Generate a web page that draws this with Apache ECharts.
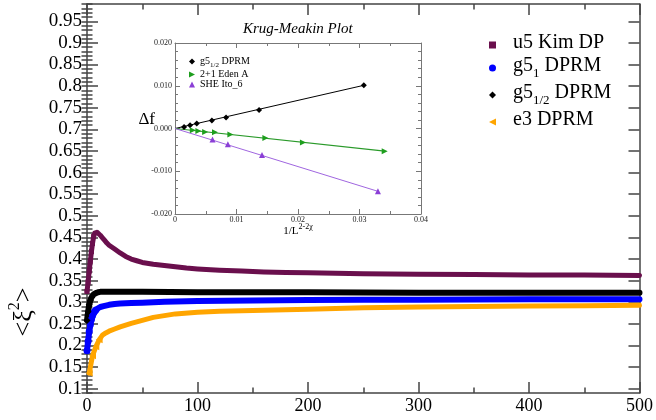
<!DOCTYPE html>
<html><head><meta charset="utf-8">
<script src="https://cdn.jsdelivr.net/npm/echarts@6/dist/echarts.min.js"></script>
<style>html,body{margin:0;padding:0;background:#fff}#c{width:656px;height:420px}</style>
</head><body><div id="c"></div>
<script>
// ---------- main chart data ----------
const u5X = [0,1,2,3,4,5,6,7,8,9,10,12,14,16,18,20,25,30,35,40,45,50,60,70,80,90,100,120,140,160,180,200,250,300,350,400,450,500];
const u5Y = [0.325,0.347,0.372,0.395,0.417,0.436,0.452,0.460,0.463,0.462,0.460,0.455,0.449,0.443,0.437,0.432,0.423,0.414,0.406,0.400,0.396,0.392,0.388,0.385,0.382,0.379,0.377,0.374,0.372,0.370,0.369,0.368,0.366,0.365,0.364,0.363,0.363,0.362];

const g51X = [0,1,2,3,4,5,6,7,8,10,12,15,20,25,30,40,50,70,100,150,200,250,300,400,500];
const g51Y = [0.188,0.210,0.232,0.248,0.260,0.269,0.275,0.279,0.282,0.286,0.289,0.291,0.294,0.296,0.297,0.298,0.299,0.301,0.303,0.304,0.305,0.306,0.306,0.307,0.307];

const g5hX = [0,1,2,3,4,5,6,7,8,10,12,15,20,30,50,100,200,300,400,500];
const g5hY = [0.258,0.278,0.294,0.304,0.311,0.315,0.318,0.320,0.321,0.323,0.324,0.324,0.324,0.324,0.324,0.323,0.323,0.322,0.322,0.322];

const e3X = [2,5,8,11,14,17,20,25,30,40,50,60,70,80,100,120,150,200,250,300,350,400,450,500];
const e3Y = [0.136,0.176,0.197,0.213,0.224,0.229,0.233,0.238,0.243,0.251,0.258,0.265,0.269,0.273,0.277,0.279,0.281,0.284,0.287,0.289,0.290,0.291,0.292,0.293];

const seriesNames = ['u5 Kim DP','g5_1 DPRM','g5_1/2 DPRM','e3 DPRM'];
const yMajorTicks = [0.1,0.15,0.2,0.25,0.3,0.35,0.4,0.45,0.5,0.55,0.6,0.65,0.7,0.75,0.8,0.85,0.9,0.95];

// ---------- inset data ----------
const inG5X = [0.00147,0.00245,0.00354,0.0060,0.0083,0.01367,0.0307];
const inG5Y = [0.00037,0.00077,0.00117,0.0019,0.0026,0.0043,0.0101];
const inEdenX = [0.0029,0.0038,0.0049,0.0065,0.0090,0.0147,0.0208,0.0341];
const inEdenY = [-0.0004,-0.0006,-0.0008,-0.0009,-0.0014,-0.0022,-0.0033,-0.0053];
const inSheX = [0.0061,0.0086,0.01415,0.0330];
const inSheY = [-0.0026,-0.0037,-0.0062,-0.0147];
const fitG5X = [0,0.0307], fitG5Y = [0,0.0101];
const fitEdenX = [0,0.0341], fitEdenY = [0,-0.0053];
const fitSheX = [0,0.0330], fitSheY = [0,-0.0147];
const insetNames = ['inset g5_1/2 DPRM','inset 2+1 Eden A','inset SHE Ito_6'];

// ---------- helpers / styles ----------
const FONT = '"Liberation Serif","Times New Roman",serif';
const frame = '#444';
const inFrame = '#777';
const zip = (xs, ys) => xs.map((x, i) => [x, ys[i]]);
const triLeft = 'path://M0,5L10,0L10,10Z';
const triRight = 'path://M0,0L10,5L0,10Z';

const legendLabel = {
  'u5 Kim DP': '{sp| }{n|u5 Kim DP}',
  'g5_1 DPRM': '{sp| }{n|g5}{b|1}{n| DPRM}',
  'g5_1/2 DPRM': '{sp| }{n|g5}{b|1/2}{n| DPRM}',
  'e3 DPRM': '{sp| }{n|e3 DPRM}',
  'inset g5_1/2 DPRM': '{n|g5}{b|1/2}{n| DPRM}',
  'inset 2+1 Eden A': '{n|2+1 Eden A}',
  'inset SHE Ito_6': '{n|SHE Ito_6}'
};

function mainLine(name, xs, ys, color, symbol, size, early, width) {
  return {
    type: 'line', name: name, xAxisIndex: 0, yAxisIndex: 0,
    data: zip(xs, ys), symbol: symbol, showAllSymbol: true,
    symbolSize: v => (v[0] <= early ? size : 0),
    itemStyle: { color: color }, lineStyle: { color: color, width: width, join: 'round', cap: 'round' },
    clip: false, z: 3
  };
}

const tickLS = { color: frame, width: 1.5 };
const chart = echarts.init(document.getElementById('c'), null, { renderer: 'canvas' });
chart.setOption({
  animation: false,
  backgroundColor: '#fff',
  title: {
    text: 'Krug-Meakin Plot', left: 243, top: 22, padding: 0,
    textStyle: { fontFamily: FONT, fontStyle: 'italic', fontWeight: 'normal', fontSize: 15, color: '#000' }
  },
  grid: [
    { left: 87, right: 13, top: 4, bottom: 27, containLabel: false },
    { left: 175, right: 235, top: 43, bottom: 206, containLabel: false }
  ],
  xAxis: [
    { type: 'value', gridIndex: 0, position: 'bottom', min: 0, max: 500, interval: 100,
      axisLine: { onZero: false, lineStyle: { color: frame, width: 1.5 } },
      axisTick: { inside: true, length: 11, lineStyle: tickLS },
      minorTick: { show: true, splitNumber: 2, length: 5.5, lineStyle: tickLS },
      axisLabel: { margin: 4, fontSize: 18, fontFamily: FONT, color: '#000' },
      splitLine: { show: false }, minorSplitLine: { show: false } },
    { type: 'value', gridIndex: 0, position: 'top', min: 0, max: 500, interval: 100,
      axisLine: { onZero: false, lineStyle: { color: frame, width: 1.5 } },
      axisTick: { inside: true, length: 11, lineStyle: tickLS },
      minorTick: { show: true, splitNumber: 2, length: 5.5, lineStyle: tickLS },
      axisLabel: { show: false }, splitLine: { show: false } },
    { type: 'value', gridIndex: 1, position: 'bottom', min: 0, max: 0.04, interval: 0.01,
      axisLine: { onZero: false, lineStyle: { color: inFrame, width: 1 } },
      axisTick: { inside: true, length: 5, lineStyle: { color: inFrame } },
      minorTick: { show: true, splitNumber: 2, length: 3, lineStyle: { color: inFrame } },
      axisLabel: { margin: 2, fontSize: 8, fontFamily: FONT, color: '#222',
        formatter: v => (Math.abs(v) < 1e-9 ? '0' : v.toFixed(2)) },
      name: '{a|1/L}{s|2-2χ}', nameLocation: 'middle', nameGap: 10, nameMoveOverlap: false,
      nameTextStyle: { rich: {
        a: { fontSize: 11, lineHeight: 13, fontFamily: FONT, color: '#000', verticalAlign: 'bottom' },
        s: { fontSize: 8, lineHeight: 8, padding: [0, 0, 6, 0], fontFamily: FONT, color: '#000', verticalAlign: 'bottom' } } },
      splitLine: { show: false } },
    { type: 'value', gridIndex: 1, position: 'top', min: 0, max: 0.04, interval: 0.01,
      axisLine: { onZero: false, lineStyle: { color: inFrame, width: 1 } },
      axisTick: { inside: true, length: 5, lineStyle: { color: inFrame } },
      minorTick: { show: true, splitNumber: 2, length: 3, lineStyle: { color: inFrame } },
      axisLabel: { show: false }, splitLine: { show: false } }
  ],
  yAxis: [
    { type: 'value', gridIndex: 0, position: 'left', min: 0.09, max: 0.99,
      axisLine: { show: true, onZero: false, lineStyle: { color: frame, width: 1.5 } },
      axisTick: { show: true, inside: true, length: 11, customValues: yMajorTicks, lineStyle: tickLS },
      axisLabel: { show: true, customValues: yMajorTicks, margin: 5, fontSize: 19, fontFamily: FONT, color: '#000',
        formatter: v => String(+v.toFixed(2)) },
      splitLine: { show: false } },
    { type: 'value', gridIndex: 0, position: 'right', min: 0.09, max: 0.99,
      axisLine: { show: true, onZero: false, lineStyle: { color: frame, width: 1.5 } },
      axisTick: { show: true, inside: true, length: 11, customValues: yMajorTicks, lineStyle: tickLS },
      axisLabel: { show: false }, splitLine: { show: false } },
    { type: 'value', gridIndex: 0, position: 'left', min: 0.09, max: 0.99, interval: 0.01,
      axisLine: { show: false }, axisTick: { show: true, inside: true, length: 5.5, lineStyle: tickLS },
      axisLabel: { show: false }, splitLine: { show: false } },
    { type: 'value', gridIndex: 0, position: 'right', min: 0.09, max: 0.99, interval: 0.01,
      axisLine: { show: false }, axisTick: { show: true, inside: true, length: 5.5, lineStyle: tickLS },
      axisLabel: { show: false }, splitLine: { show: false } },
    { type: 'value', gridIndex: 1, position: 'left', min: -0.02, max: 0.02, interval: 0.01,
      axisLine: { show: true, onZero: false, lineStyle: { color: inFrame, width: 1 } },
      axisTick: { inside: true, length: 5, lineStyle: { color: inFrame } },
      minorTick: { show: true, splitNumber: 5, length: 3, lineStyle: { color: inFrame } },
      axisLabel: { margin: 3, fontSize: 8, fontFamily: FONT, color: '#222',
        formatter: v => (Math.abs(v) < 1e-9 ? '0.000' : v.toFixed(3)) },
      name: 'Δf', nameLocation: 'middle', nameRotate: 0, nameGap: 20, nameMoveOverlap: false,
      nameTextStyle: { fontSize: 17, fontFamily: FONT, color: '#000', verticalAlign: 'bottom' },
      splitLine: { show: false } },
    { type: 'value', gridIndex: 1, position: 'right', min: -0.02, max: 0.02, interval: 0.01,
      axisLine: { show: true, onZero: false, lineStyle: { color: inFrame, width: 1 } },
      axisTick: { inside: true, length: 5, lineStyle: { color: inFrame } },
      minorTick: { show: true, splitNumber: 5, length: 3, lineStyle: { color: inFrame } },
      axisLabel: { show: false }, splitLine: { show: false } }
  ],
  legend: [
    { data: [
        { name: seriesNames[0], icon: 'rect', itemStyle: { borderWidth: 0 } },
        { name: seriesNames[1], icon: 'circle' },
        { name: seriesNames[2], icon: 'diamond' },
        { name: seriesNames[3], icon: triLeft } ],
      orient: 'vertical', left: 489, top: 33, padding: 0, itemGap: 3, itemWidth: 7, itemHeight: 7,
      selectedMode: false,
      formatter: n => legendLabel[n],
      textStyle: { rich: {
        sp: { width: 12, fontSize: 10 },
        n: { fontSize: 20, lineHeight: 24, fontFamily: FONT, color: '#000', verticalAlign: 'top' },
        b: { fontSize: 13, lineHeight: 14, padding: [11, 0, 0, 0], fontFamily: FONT, color: '#000', verticalAlign: 'top' } } } },
    { data: [
        { name: insetNames[0], icon: 'diamond' },
        { name: insetNames[1], icon: triRight },
        { name: insetNames[2], icon: 'triangle' } ],
      orient: 'vertical', left: 189, top: 56, padding: 0, itemGap: 0, itemWidth: 6, itemHeight: 6,
      selectedMode: false,
      formatter: n => legendLabel[n],
      textStyle: { rich: {
        n: { fontSize: 10, lineHeight: 11, fontFamily: FONT, color: '#000', verticalAlign: 'top' },
        b: { fontSize: 7, lineHeight: 7, padding: [6, 0, 0, 0], fontFamily: FONT, color: '#000', verticalAlign: 'top' } } } }
  ],
  graphic: [
    { type: 'text', x: 22, y: 312, rotation: Math.PI / 2,
      style: { text: '{a|<ξ}{s|2}{a|>}', align: 'center', verticalAlign: 'middle', textAlign: 'center', textVerticalAlign: 'middle',
        rich: {
          a: { fontSize: 26, lineHeight: 30, fontFamily: FONT, fill: '#000', color: '#000', verticalAlign: 'bottom' },
          s: { fontSize: 16, lineHeight: 16, padding: [0, 0, 14, 0], fontFamily: FONT, fill: '#000', color: '#000', verticalAlign: 'bottom' } } } }
  ],
  series: [
    mainLine(seriesNames[0], u5X, u5Y, '#6a0f4d', 'rect', 5, 6, 5),
    mainLine(seriesNames[1], g51X, g51Y, '#0000ff', 'circle', 7, 8, 6),
    mainLine(seriesNames[2], g5hX, g5hY, '#000000', 'diamond', 7, 3, 6),
    mainLine(seriesNames[3], e3X, e3Y, '#ffa500', triLeft, 7, 11, 5),
    { type: 'line', name: 'fit g5', xAxisIndex: 2, yAxisIndex: 4, data: zip(fitG5X, fitG5Y), showSymbol: false,
      lineStyle: { color: '#000', width: 1 }, itemStyle: { color: '#000' } },
    { type: 'line', name: 'fit eden', xAxisIndex: 2, yAxisIndex: 4, data: zip(fitEdenX, fitEdenY), showSymbol: false,
      lineStyle: { color: '#2a9a2a', width: 1.2 }, itemStyle: { color: '#2a9a2a' } },
    { type: 'line', name: 'fit she', xAxisIndex: 2, yAxisIndex: 4, data: zip(fitSheX, fitSheY), showSymbol: false,
      lineStyle: { color: '#a066e0', width: 1 }, itemStyle: { color: '#a066e0' } },
    { type: 'scatter', name: insetNames[0], xAxisIndex: 2, yAxisIndex: 4, data: zip(inG5X, inG5Y),
      symbol: 'diamond', symbolSize: 6, itemStyle: { color: '#000', opacity: 1 }, z: 4 },
    { type: 'scatter', name: insetNames[1], xAxisIndex: 2, yAxisIndex: 4, data: zip(inEdenX, inEdenY),
      symbol: triRight, symbolSize: 6, itemStyle: { color: '#1e9e1e', opacity: 1 }, z: 4 },
    { type: 'scatter', name: insetNames[2], xAxisIndex: 2, yAxisIndex: 4, data: zip(inSheX, inSheY),
      symbol: 'triangle', symbolSize: 6, itemStyle: { color: '#8b3fd6', opacity: 1 }, z: 4 }
  ]
});
</script></body></html>
